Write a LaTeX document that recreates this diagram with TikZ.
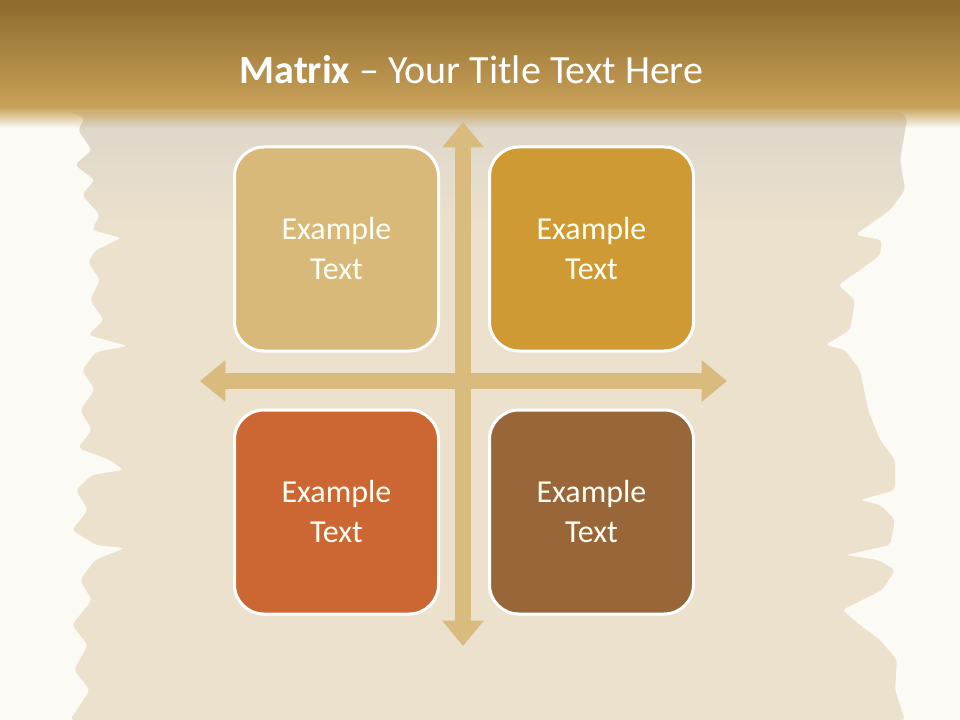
\documentclass[tikz,border=0pt]{standalone}
\usepackage{fontspec}
\setmainfont{Carlito}
\usepackage{xcolor}
\usetikzlibrary{positioning, arrows.meta, fadings}
\definecolor{PageWhite}{HTML}{FBFAF5}
\definecolor{TitleDark}{HTML}{8D6A2D}
\definecolor{TitleLight}{HTML}{C9A259}
\definecolor{Parchment}{HTML}{ECE1CC}
\definecolor{ParchmentGrey}{HTML}{D8D4CB}
\definecolor{SandBox}{HTML}{D8B97A}
\definecolor{OchreBox}{HTML}{CF9A33}
\definecolor{RustBox}{HTML}{CC6633}
\definecolor{BarkBox}{HTML}{99663A}
\definecolor{CrossSand}{HTML}{D9BB7D}
\newcommand{\SheetOutline}{(70,112) -- (85,118) -- (78,130) -- (92,150) -- (75,165) -- (95,180) -- (82,195) -- (100,215) -- (92,230) -- (122,238) -- (96,250) -- (88,262) -- (100,280) -- (90,300) -- (104,320) -- (88,335) -- (128,346) -- (96,352) -- (82,370) -- (95,390) -- (80,410) -- (92,430) -- (78,448) -- (110,460) -- (124,470) -- (92,475) -- (76,490) -- (88,510) -- (72,530) -- (96,545) -- (125,548) -- (95,560) -- (80,580) -- (92,600) -- (72,625) -- (88,645) -- (74,670) -- (90,690) -- (70,720)
    -- (905,720) -- (895,690) -- (897,660) -- (880,640) -- (860,625) -- (842,610) -- (882,590) -- (895,570) -- (878,560) -- (845,555) -- (890,545) -- (895,520) -- (880,505) -- (860,500) -- (895,490) -- (895,460) -- (880,440) -- (868,410) -- (860,370) -- (845,350) -- (825,345) -- (850,330) -- (855,300) -- (838,285) -- (860,270) -- (880,255) -- (882,240) -- (855,235) -- (890,210) -- (905,190) -- (900,160) -- (907,118) -- (900,112) -- cycle}

\begin{document}
\begin{tikzpicture}[
            x=0.75pt, y=-0.75pt,
            node distance=42pt and 36pt,
            box/.style={draw=white, line width=2.25pt, rounded corners=22pt, text=white!95!yellow, minimum width=153pt, minimum height=153pt, align=center, font=\fontsize{24pt}{30pt}\selectfont},
            arrow/.style={{Triangle[width=30pt,length=19pt]}-{Triangle[width=30pt,length=19pt]}, line width=12pt, CrossSand}
        ]
            \useasboundingbox (0,0) rectangle (960,720);
            \fill[PageWhite] (0,0) rectangle (960,720);

            % torn parchment sheet
            \fill[Parchment, rounded corners=3pt] \SheetOutline;
            \begin{scope}
                \clip[rounded corners=3pt] \SheetOutline;
                \fill[ParchmentGrey, path fading=south, opacity=0.8] (60,110) rectangle (910,230);
            \end{scope}

            % title bar
            \fill[top color=TitleDark, bottom color=TitleLight] (0,0) rectangle (960,108);
            \fill[TitleLight, path fading=south] (0,107) rectangle (960,128);
            \node[text=white, font=\fontsize{30pt}{36pt}\selectfont] (title) at (471.5,70) {\textbf{Matrix} -- Your Title Text Here};

            % cross
            \coordinate (vtop) at (463,122);
            \coordinate (vbot) at (463,646);
            \coordinate (hleft) at (200,381);
            \coordinate (hright) at (727,381);
            \draw[arrow] (hleft) -- (hright);
            \draw[arrow] (vtop) -- (vbot);

            \node[box, fill=SandBox] (sand) at (336.5,249) {Example\\Text};
            \node[box, fill=OchreBox, right=of sand] (ochre) {Example\\Text};
            \node[box, fill=RustBox, below=of sand] (rust) {Example\\Text};
            \node[box, fill=BarkBox, right=of rust] (bark) {Example\\Text};

        \end{tikzpicture}
\end{document}
